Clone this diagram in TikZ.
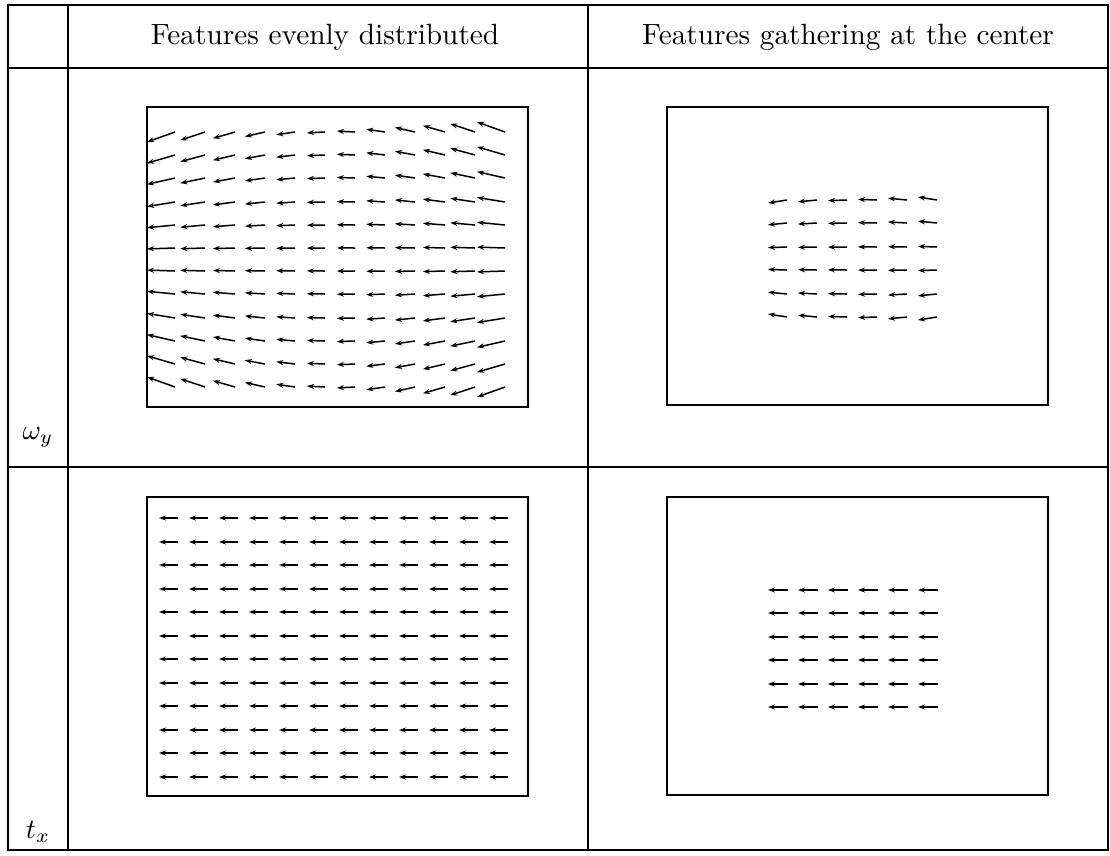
\documentclass[tikz,border=0pt]{standalone}
\usepackage{graphicx}
\usetikzlibrary{arrows.meta}
\begin{document}
\begin{tikzpicture}[x=1pt,y=-1pt,
  rule/.style={line width=1.4pt},
  panel/.style={line width=1.4pt},
  vec/.style={line width=1.5pt,-{Stealth[length=7pt,width=5pt]}},
  head/.style={inner sep=0pt},
  lab/.style={inner sep=0pt}]
\useasboundingbox (0,0) rectangle (1110,855);
% table rules
\draw[rule] (8,5) rectangle (1108,850);
\draw[rule] (68,5) -- (68,850);
\draw[rule] (588,5) -- (588,850);
\draw[rule] (8,68) -- (1108,68);
\draw[rule] (8,467) -- (1108,467);
% headers and row labels
\node[head] (h1) at (325,37) {\scalebox{2.93}{Features evenly distributed}};
\node[head] (h2) at (848,37) {\scalebox{2.93}{Features gathering at the center}};
\node[lab] (wy) at (38,437) {\scalebox{2.8}{$\omega_y$}};
\node[lab] (tx) at (38,832) {\scalebox{2.8}{$t_x$}};
% panels
\draw[panel] (147,107) rectangle (528,407);
\draw[panel] (667,107) rectangle (1048,405);
\draw[panel] (147,497) rectangle (528,796);
\draw[panel] (667,497) rectangle (1048,795);
% top-left: omega_y, evenly distributed
\foreach \i in {0,...,11}{
  \foreach \j in {0,...,11}{
    \pgfmathsetmacro{\tx}{175+30*\i}
    \pgfmathsetmacro{\ty}{round(132+23.2*\j)}
    \pgfmathsetmacro{\X}{(\i-5.5)/5.5}
    \pgfmathsetmacro{\Y}{(\j-5.5)/5.5}
    \pgfmathsetmacro{\u}{-(18+10*\X*\X)}
    \pgfmathsetmacro{\v}{10*\X*\Y}
    \draw[vec] (\tx,\ty) -- ++(\u,\v);
  }
}
% top-right: omega_y, gathered
\foreach \i in {0,...,5}{
  \foreach \j in {0,...,5}{
    \pgfmathsetmacro{\tx}{787+30*\i}
    \pgfmathsetmacro{\ty}{round(200+23.4*\j)}
    \pgfmathsetmacro{\X}{(\i-2.5)/2.5}
    \pgfmathsetmacro{\Y}{(\j-2.5)/2.5}
    \pgfmathsetmacro{\v}{3*\X*\Y}
    \draw[vec] (\tx,\ty) -- ++(-19,\v);
  }
}
% bottom-left: t_x, evenly distributed
\foreach \i in {0,...,11}{
  \foreach \j in {0,...,11}{
    \pgfmathsetmacro{\tx}{178+30*\i}
    \pgfmathsetmacro{\ty}{round(518+23.5*\j)}
    \draw[vec] (\tx,\ty) -- ++(-19,0);
  }
}
% bottom-right: t_x, gathered
\foreach \i in {0,...,5}{
  \foreach \j in {0,...,5}{
    \pgfmathsetmacro{\tx}{788+30*\i}
    \pgfmathsetmacro{\ty}{round(590+23.4*\j)}
    \draw[vec] (\tx,\ty) -- ++(-20,0);
  }
}
\end{tikzpicture}
\end{document}
